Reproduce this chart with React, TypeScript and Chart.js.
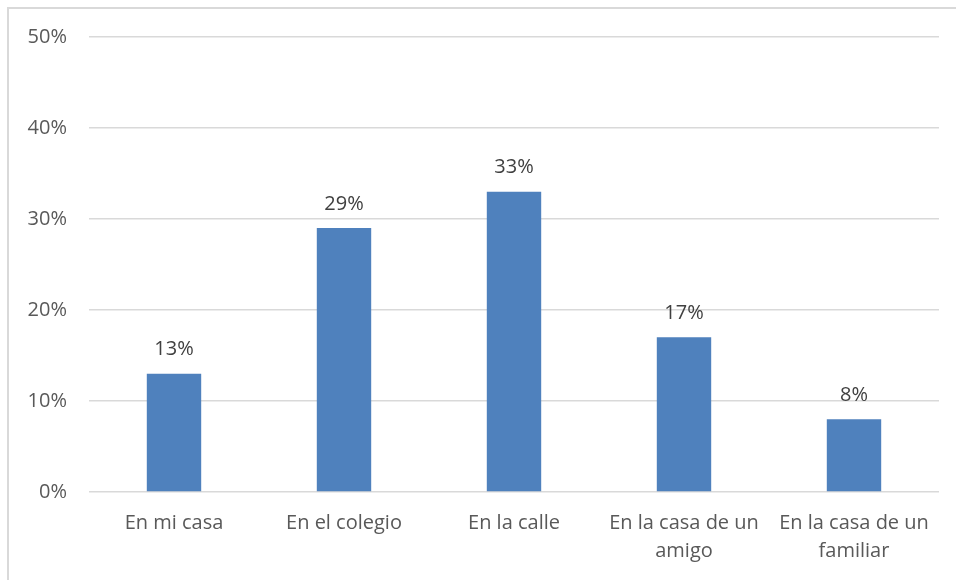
import React, { useEffect, useRef } from "react";
import { Chart, registerables } from "chart.js";

Chart.register(...registerables);

const categories: (string | string[])[] = [
  "En mi casa",
  "En el colegio",
  "En la calle",
  ["En la casa de un", "amigo"],
  ["En la casa de un", "familiar"],
];
const values: number[] = [13, 29, 33, 17, 8];
const yMin = 0;
const yMax = 50;
const yStep = 10;

const FONT = "'Open Sans', Lato, sans-serif";

const dataLabelPlugin = {
  id: "dataLabels",
  afterDatasetsDraw(chart: any) {
    const ctx = chart.ctx;
    const meta = chart.getDatasetMeta(0);
    ctx.save();
    ctx.font = `20px ${FONT}`;
    ctx.fillStyle = "#404040";
    ctx.textAlign = "center";
    ctx.textBaseline = "middle";
    meta.data.forEach((bar: any, i: number) => {
      ctx.fillText(`${values[i]}%`, bar.x, bar.y - 24);
    });
    ctx.restore();
  },
};

export default function App() {
  const ref = useRef<HTMLCanvasElement | null>(null);

  useEffect(() => {
    document.body.style.margin = "0";
    const canvas = ref.current;
    if (!canvas) return;
    const chart = new Chart(canvas, {
      type: "bar",
      data: {
        labels: categories,
        datasets: [
          {
            data: values,
            backgroundColor: "#4F81BD",
            categoryPercentage: 0.64,
            barPercentage: 0.5,
          },
        ],
      },
      options: {
        animation: false,
        responsive: false,
        maintainAspectRatio: false,
        layout: { padding: { left: 0, top: 37, right: 17, bottom: 0 } },
        plugins: {
          legend: { display: false },
          tooltip: { enabled: false },
        },
        scales: {
          x: {
            grid: { display: false, drawTicks: false },
            border: { display: false },
            ticks: {
              color: "#595959",
              font: { family: FONT, size: 20, lineHeight: 1.4 },
              padding: 17,
              maxRotation: 0,
              autoSkip: false,
            },
            afterFit: (scale: any) => {
              scale.height = 88;
            },
          },
          y: {
            min: yMin,
            max: yMax,
            grid: { color: "#d9d9d9", lineWidth: 1.5, drawTicks: false },
            border: { display: false },
            ticks: {
              stepSize: yStep,
              color: "#595959",
              font: { family: FONT, size: 20 },
              padding: 22,
              callback: (v: any) => `${v}%`,
            },
            afterFit: (scale: any) => {
              scale.width = 89;
            },
          },
        },
      },
      plugins: [dataLabelPlugin],
    });
    return () => chart.destroy();
  }, []);

  return (
    <div style={{ position: "relative", width: 956, height: 580, overflow: "hidden", background: "#fff" }}>
      <div
        style={{
          position: "absolute",
          left: 7,
          top: 7,
          width: 960,
          height: 600,
          borderLeft: "2px solid #d9d9d9",
          borderTop: "2px solid #d9d9d9",
        }}
      />
      <canvas ref={ref} width={956} height={580} style={{ position: "absolute", left: 0, top: 0 }} />
    </div>
  );
}
